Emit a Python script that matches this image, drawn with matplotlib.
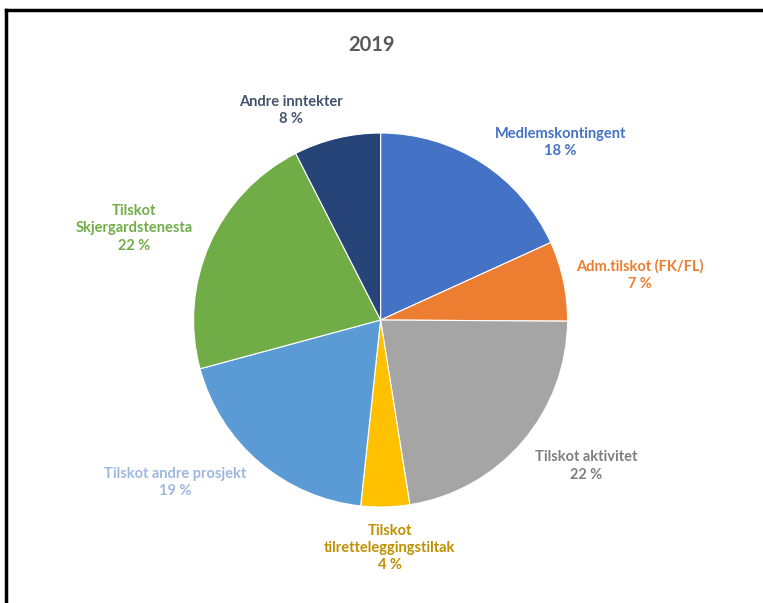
import matplotlib.pyplot as plt
from matplotlib.lines import Line2D
import numpy as np

plt.rcParams['font.family'] = ['Lato', 'DejaVu Sans']

labels = ["Medlemskontingent", "Adm.tilskot (FK/FL)", "Tilskot aktivitet",
          "Tilskot\ntilretteleggingstiltak", "Tilskot andre prosjekt",
          "Tilskot\nSkjergardstenesta", "Andre inntekter"]
shares = [18.2, 6.9, 22.4, 4.2, 19.1, 21.7, 7.5]
colors = ["#4472C4", "#ED7D31", "#A5A5A5", "#FFC000", "#5B9BD5", "#70AD47", "#264478"]
text_colors = ["#4472C4", "#ED7D31", "#7F7F7F", "#BF9000", "#9DB8E0", "#70AD47", "#44546A"]
# label offsets in pie-radius units
label_xy = [(0.96, 0.95), (1.385, 0.24), (1.10, -0.78), (0.05, -1.22),
            (-1.10, -0.87), (-1.32, 0.49), (-0.48, 1.12)]

fig = plt.figure(figsize=(7.63, 6.03), dpi=100)
ax = fig.add_axes([0.2537, 0.1592, 0.4902, 0.6202])
ax.pie(shares, colors=colors, startangle=90, counterclock=False,
       wedgeprops=dict(edgecolor="white", linewidth=0.8))
ax.set_xlim(-1, 1)
ax.set_ylim(-1, 1)
ax.set_aspect("equal")

for lab, s, c, (x, y) in zip(labels, shares, text_colors, label_xy):
    ax.text(x, y, "%s\n%.0f %%" % (lab, s), ha="center", va="center",
            color=c, fontsize=10.5, fontweight="bold", linespacing=1.3,
            clip_on=False, zorder=5)

fig.text(0.487, 0.925, "2019", ha="center", va="center", fontsize=14.5,
         fontweight="bold", color="#595959")

# frame on top and left
fig.add_artist(Line2D([0.008, 0.008], [0, 0.983], color="black", lw=2.5))
fig.add_artist(Line2D([0.008, 1], [0.983, 0.983], color="black", lw=2.5))

fig.savefig("out.png", dpi=100)
